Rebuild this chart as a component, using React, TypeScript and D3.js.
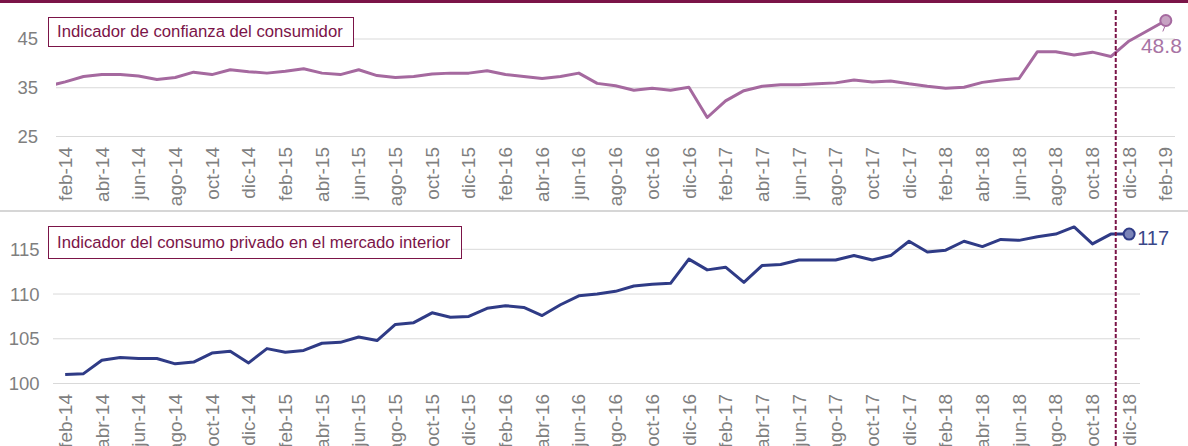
import { useMemo } from 'react'
import * as d3 from 'd3'

const width = 1188
const height = 446

// month names and years for the categories
const monthNames = ['ene', 'feb', 'mar', 'abr', 'may', 'jun', 'jul', 'ago', 'sep', 'oct', 'nov', 'dic']
const years = ['14', '15', '16', '17', '18', '19']

// ene-14 .. feb-19
const months: string[] = []
years.forEach(y => monthNames.forEach(m => months.push(`${m}-${y}`)))
months.splice(months.indexOf('feb-19') + 1)

// Indicador de confianza del consumidor, ene-14 .. feb-19
const confianza = [
  35.3, 36.2, 37.3, 37.7, 37.7, 37.4, 36.7, 37.1, 38.2, 37.7, 38.7, 38.3,
  38.0, 38.4, 38.9, 38.0, 37.7, 38.7, 37.5, 37.1, 37.3, 37.8, 38.0, 38.0,
  38.5, 37.7, 37.3, 36.9, 37.3, 38.0, 35.9, 35.4, 34.5, 34.9, 34.5, 35.1,
  28.9, 32.3, 34.4, 35.3, 35.6, 35.6, 35.8, 36.0, 36.6, 36.2, 36.4, 35.8,
  35.3, 34.9, 35.1, 36.1, 36.6, 36.9, 42.4, 42.4, 41.7, 42.3, 41.4, 44.6,
  46.7, 48.8,
]

// Indicador del consumo privado en el mercado interior, feb-14 .. dic-18
const consumo = [
  101.0, 101.1, 102.6, 102.9, 102.8, 102.8, 102.2, 102.4, 103.4, 103.6, 102.3,
  103.9, 103.5, 103.7, 104.5, 104.6, 105.2, 104.8, 106.6, 106.8, 107.9, 107.4, 107.5,
  108.4, 108.7, 108.5, 107.6, 108.8, 109.8, 110.0, 110.3, 110.9, 111.1, 111.2, 113.9,
  112.7, 113.0, 111.3, 113.2, 113.3, 113.8, 113.8, 113.8, 114.3, 113.8, 114.3, 115.9,
  114.7, 114.9, 115.9, 115.3, 116.1, 116.0, 116.4, 116.7, 117.5, 115.6, 116.7, 116.7,
]
const consumoStart = 'feb-14'

const topTicks = [25, 35, 45]
const bottomTicks = [100, 105, 110, 115]
const topLabels = months.filter((m, i) => i >= 1 && i % 2 === 1)
const bottomLabels = topLabels.filter(m => months.indexOf(m) <= months.indexOf('dic-18'))
const markerMonth = 'nov-18'

const titleTop = 'Indicador de confianza del consumidor'
const titleBottom = 'Indicador del consumo privado en el mercado interior'

const maroon = '#7b1448'
const mauve = '#a5699f'
const navy = '#2f3b86'
const tickColor = '#7f7f7f'
const font = '"Liberation Sans", Arial, sans-serif'

function App() {
  const x = useMemo(() => d3.scaleLinear()
    .domain([0.5, months.length - 0.5])
    .range([56, 1175]), [])
  const step = x(1) - x(0)
  const xm = (m: string) => x(months.indexOf(m))

  const yTop = d3.scaleLinear().domain([25, 45]).range([136.5, 39])
  const yBot = d3.scaleLinear().domain([100, 115]).range([383.5, 249.3])

  const topLine = d3.line<number>()
    .x((_, i) => x(i))
    .y(d => yTop(d))
  const off = months.indexOf(consumoStart)
  const botLine = d3.line<number>()
    .x((_, i) => x(i + off))
    .y(d => yBot(d))

  const lastTop = confianza.length - 1
  const lastBot = consumo.length - 1 + off
  const markerX = xm(markerMonth) + step * 0.27

  return (
    <svg width={width} height={height} style={{ position: 'absolute', left: 0, top: 0, fontFamily: font }}>
      <defs>
        <clipPath id="clipTop">
          <rect x={56} y={0} width={1130} height={200} />
        </clipPath>
      </defs>
      <rect x={0} y={0} width={width} height={3} fill={maroon} />
      <rect x={0} y={210} width={width} height={2} fill="#d6d6d6" />

      {/* top panel */}
      {topTicks.map(t => (
        <g key={t}>
          <line x1={56} x2={1175} y1={yTop(t)} y2={yTop(t)} stroke="#d9d9d9" strokeWidth={1} />
          <text x={38} y={yTop(t)} dy="0.35em" textAnchor="end" fontSize={18.5} fill={tickColor}>{t}</text>
        </g>
      ))}
      {topLabels.map(m => (
        <text key={m} transform={`translate(${xm(m)},147) rotate(-90)`} dy="0.35em" textAnchor="end"
          fontSize={19} fill={tickColor}>{m}</text>
      ))}
      <path d={topLine(confianza) || ''} fill="none" stroke={mauve} strokeWidth={3} strokeLinejoin="round"
        clipPath="url(#clipTop)" />
      <circle cx={x(lastTop)} cy={yTop(confianza[lastTop])} r={5.5} fill="#c7a3c3" stroke={mauve} strokeWidth={2} />
      <line x1={x(lastTop) - 1} y1={yTop(confianza[lastTop]) + 6} x2={x(lastTop) - 3} y2={yTop(confianza[lastTop]) + 11}
        stroke={mauve} strokeWidth={1} />
      <text x={x(lastTop) + 16} y={53} textAnchor="end" fontSize={21} fill="#a874a4">{confianza[lastTop]}</text>

      <rect x={48.5} y={17.5} width={305} height={29} fill="#fff" stroke={maroon} strokeWidth={1} />
      <text x={57} y={37} fontSize={16.7} fill={maroon}>{titleTop}</text>

      {/* bottom panel */}
      {bottomTicks.map(t => (
        <g key={t}>
          <line x1={53} x2={1140} y1={yBot(t)} y2={yBot(t)} stroke="#d9d9d9" strokeWidth={1} />
          <text x={39.5} y={yBot(t)} dy="0.35em" textAnchor="end" fontSize={18.5} fill={tickColor}>{t}</text>
        </g>
      ))}
      {bottomLabels.map(m => (
        <text key={m} transform={`translate(${xm(m)},394) rotate(-90)`} dy="0.35em" textAnchor="end"
          fontSize={19} fill={tickColor}>{m}</text>
      ))}
      <path d={botLine(consumo) || ''} fill="none" stroke={navy} strokeWidth={3} strokeLinejoin="round" />
      <circle cx={x(lastBot)} cy={yBot(consumo[consumo.length - 1])} r={5.5} fill="#7b84b8" stroke={navy} strokeWidth={2} />
      <text x={x(lastBot) + 8} y={245} fontSize={20} fill="#3a4789">{d3.format('.0f')(consumo[consumo.length - 1])}</text>

      <rect x={48.5} y={226.5} width={413} height={32} fill="#fff" stroke={maroon} strokeWidth={1} />
      <text x={57} y={248} fontSize={16.7} fill={maroon}>{titleBottom}</text>

      <line x1={markerX} x2={markerX} y1={10} y2={height} stroke={maroon} strokeWidth={2} strokeDasharray="4 2" />
    </svg>
  )
}

export default App
